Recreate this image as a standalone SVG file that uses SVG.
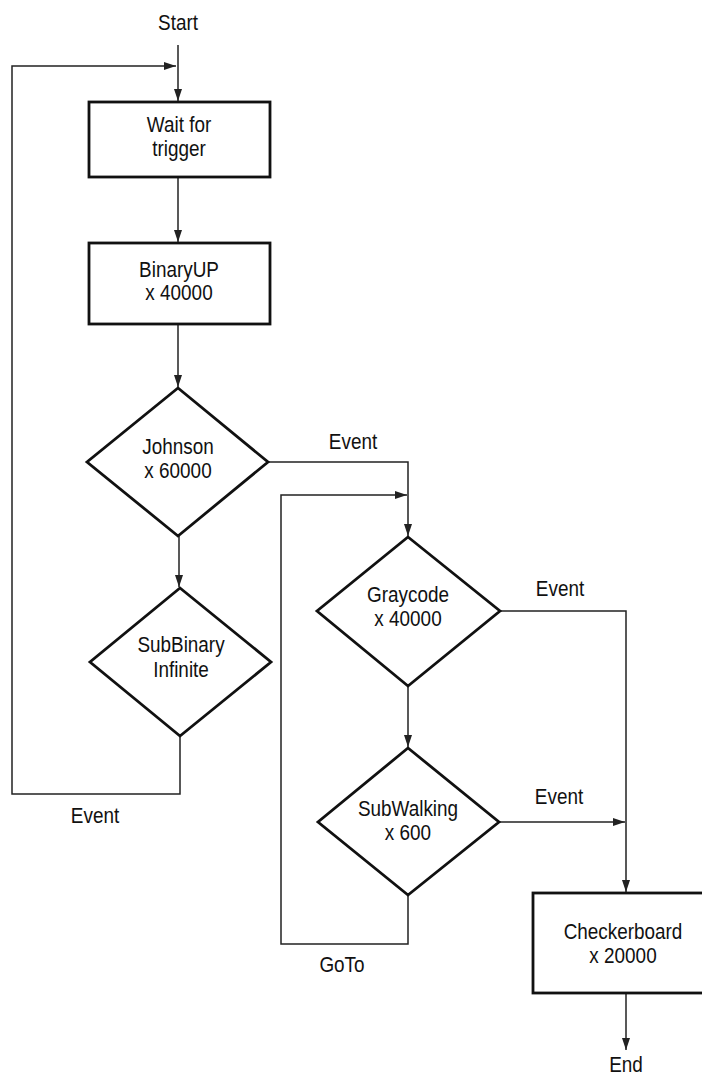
<svg xmlns="http://www.w3.org/2000/svg" width="702" height="1078" viewBox="0 0 702 1078">
<style>
text{font-family:"Liberation Sans",Arial,sans-serif;font-size:22px;fill:#111;text-anchor:middle}
.shape{fill:#fff;stroke:#111;stroke-width:2.8}
.conn{fill:none;stroke:#222;stroke-width:1.5}
</style>
<defs>
<marker id="arr" markerUnits="userSpaceOnUse" markerWidth="13" markerHeight="9" refX="12" refY="4" orient="auto">
<path d="M0,0 L12,4 L0,8 z" fill="#222"/>
</marker>
</defs>
<rect width="702" height="1078" fill="#fff"/>
<g id="connectors">
<path class="conn" d="M178,45 V101" marker-end="url(#arr)"/>
<path class="conn" d="M180,736 V794 H12 V66 H176" marker-end="url(#arr)"/>
<path class="conn" d="M178,177 V242" marker-end="url(#arr)"/>
<path class="conn" d="M178,324 V387" marker-end="url(#arr)"/>
<path class="conn" d="M179,536 V587" marker-end="url(#arr)"/>
<path class="conn" d="M268,462 H408 V536" marker-end="url(#arr)"/>
<path class="conn" d="M408,895 V944 H281 V495 H407" marker-end="url(#arr)"/>
<path class="conn" d="M408,686 V747" marker-end="url(#arr)"/>
<path class="conn" d="M500,611 H626 V892" marker-end="url(#arr)"/>
<path class="conn" d="M499,822 H625" marker-end="url(#arr)"/>
<path class="conn" d="M626,993 V1050" marker-end="url(#arr)"/>
</g>
<g id="labels">
<text transform="translate(178,30) scale(0.86,1)">Start</text>
<text transform="translate(353,449) scale(0.86,1)">Event</text>
<text transform="translate(560,596) scale(0.86,1)">Event</text>
<text transform="translate(559,804) scale(0.86,1)">Event</text>
<text transform="translate(95,823) scale(0.86,1)">Event</text>
<text transform="translate(342,972) scale(0.86,1)">GoTo</text>
<text transform="translate(626,1072) scale(0.86,1)">End</text>
</g>
<g id="wait">
<rect class="shape" x="89" y="102" width="181" height="75"/>
<text transform="translate(179,132) scale(0.86,1)">Wait for</text>
<text transform="translate(179,156) scale(0.86,1)">trigger</text>
</g>
<g id="binaryup">
<rect class="shape" x="89" y="243" width="181" height="81"/>
<text transform="translate(179,277) scale(0.86,1)">BinaryUP</text>
<text transform="translate(179,300) scale(0.86,1)">x 40000</text>
</g>
<g id="johnson">
<polygon class="shape" points="178,388 268,462 178,536 87,462"/>
<text transform="translate(178,454) scale(0.86,1)">Johnson</text>
<text transform="translate(178,478) scale(0.86,1)">x 60000</text>
</g>
<g id="subbinary">
<polygon class="shape" points="180,588 271,662 180,736 90,662"/>
<text transform="translate(181,652) scale(0.86,1)">SubBinary</text>
<text transform="translate(181,677) scale(0.86,1)">Infinite</text>
</g>
<g id="graycode">
<polygon class="shape" points="408,537 500,611 408,686 317,611"/>
<text transform="translate(408,602) scale(0.86,1)">Graycode</text>
<text transform="translate(408,626) scale(0.86,1)">x 40000</text>
</g>
<g id="subwalking">
<polygon class="shape" points="408,748 499,822 408,895 318,822"/>
<text transform="translate(408,816) scale(0.86,1)">SubWalking</text>
<text transform="translate(408,840) scale(0.86,1)">x 600</text>
</g>
<g id="checkerboard">
<rect class="shape" x="533" y="893" width="186" height="100"/>
<text transform="translate(623,939) scale(0.86,1)">Checkerboard</text>
<text transform="translate(623,963) scale(0.86,1)">x 20000</text>
</g>
</svg>
